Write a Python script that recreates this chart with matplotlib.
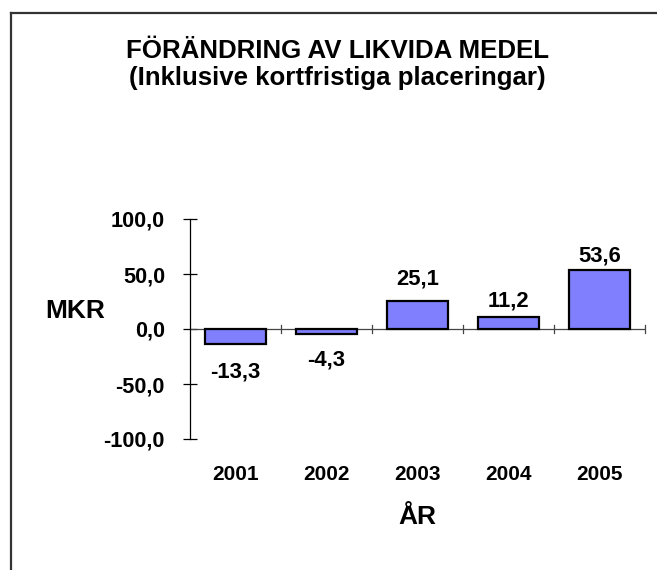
import matplotlib.pyplot as plt
from matplotlib.lines import Line2D

plt.rcParams['font.family'] = ['Liberation Sans', 'DejaVu Sans']
plt.rcParams['font.weight'] = 'bold'

years = ['2001', '2002', '2003', '2004', '2005']
change = [-13.3, -4.3, 25.1, 11.2, 53.6]
yticks = [-100, -50, 0, 50, 100]

# gap (points) between bar end and its value label, as placed in the original
label_gap = [13, 11.5, 12.2, 7.2, 5.8]

BAR = '#8080FF'


def fmt(v):
    return '{:.1f}'.format(v).replace('.', ',')


fig = plt.figure(figsize=(6.57, 5.70), dpi=100)
ax = fig.add_axes([190 / 657, 1 - 439 / 570, 455 / 657, 220 / 570])

x = range(len(years))
ax.bar(x, change, width=0.68, color=BAR, edgecolor='black', linewidth=1.6, zorder=3)

ax.set_xlim(-0.5, len(years) - 0.5)
ax.set_ylim(-100, 100)

# excel style axes: y axis at left, x axis through zero
for s in ['top', 'right', 'bottom']:
    ax.spines[s].set_visible(False)
ax.spines['left'].set_linewidth(0.9)
ax.axhline(0, color='#444444', lw=0.9, zorder=2)

ax.set_yticks(yticks)
ax.set_yticklabels([fmt(v) for v in yticks], fontsize=15.6, fontweight='bold')
ax.tick_params(axis='y', direction='inout', length=10, width=0.9, pad=13)

ax.set_xticks([])
for b in [i + 0.5 for i in x]:
    ax.plot([b, b], [-3.2, 3.2], color='#444444', lw=0.9, zorder=2, clip_on=False)

for i, v, g in zip(x, change, label_gap):
    if v >= 0:
        ax.annotate(fmt(v), (i, v), xytext=(0, g), textcoords='offset points',
                    ha='center', va='baseline', fontsize=15.8, fontweight='bold')
    else:
        ax.annotate(fmt(v), (i, v), xytext=(0, -g), textcoords='offset points',
                    ha='center', va='top', fontsize=15.8, fontweight='bold')

tr = ax.get_xaxis_transform()
for i, y in zip(x, years):
    ax.text(i, -0.186, y, transform=tr, ha='center', va='baseline',
            fontsize=15, fontweight='bold')
ax.text(0.5, -0.386, 'ÅR', transform=ax.transAxes, ha='center', va='baseline',
        fontsize=19, fontweight='bold')

fig.text(75 / 657, 1 - 318 / 570, 'MKR', ha='center', va='baseline',
         fontsize=19, fontweight='bold')

fig.text(337 / 657, 1 - 58 / 570, 'FÖRÄNDRING AV LIKVIDA MEDEL', ha='center',
         va='baseline', fontsize=18.6, fontweight='bold')
fig.text(337 / 657, 1 - 85 / 570, '(Inklusive kortfristiga placeringar)', ha='center',
         va='baseline', fontsize=18.6, fontweight='bold')

# chart area frame (only left and top edges visible)
fig.add_artist(Line2D([10.5 / 657, 10.5 / 657], [0, 1 - 13 / 570],
                      transform=fig.transFigure, color='#333333', lw=1.6))
fig.add_artist(Line2D([10.5 / 657, 1], [1 - 13 / 570, 1 - 13 / 570],
                      transform=fig.transFigure, color='#333333', lw=1.6))

fig.savefig('out.png', dpi=100)
